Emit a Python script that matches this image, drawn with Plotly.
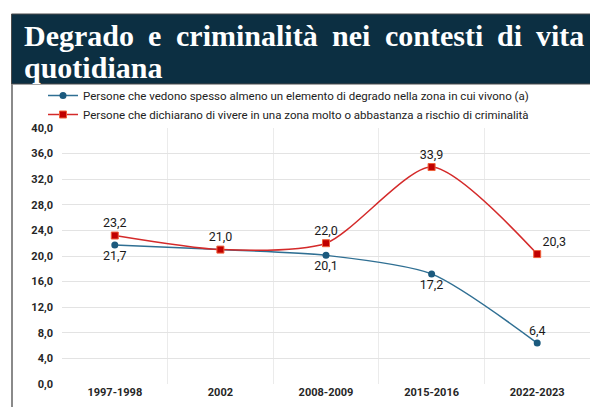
import plotly.graph_objects as go

categories = ["1997-1998", "2002", "2008-2009", "2015-2016", "2022-2023"]
degrado = [21.7, 21.0, 20.1, 17.2, 6.4]
criminalita = [23.2, 21.0, 22.0, 33.9, 20.3]
name_degrado = "Persone che vedono spesso almeno un elemento di degrado nella zona in cui vivono (a)"
name_crim = "Persone che dichiarano di vivere in una zona molto o abbastanza a rischio di criminalità"
title_line1 = ["Degrado", "e", "criminalità", "nei", "contesti", "di", "vita"]
title_line2 = "quotidiana"

# page body has an 8px margin; figure drawn 8px smaller
OFF = 8
W, H = 598 - OFF, 407 - OFF
ML, MR, MT, MB = 62 - OFF, 8, 128 - OFF, 23
PW, PH = W - ML - MR, H - MT - MB

def px(x):  # x in window pixels
    return (x - OFF - ML) / PW

def py(y):  # y in window pixels from top
    return (H - MB - (y - OFF)) / PH

BLUE_L = "#2f6f93"
BLUE_M = "#1b5a7e"
RED_L = "#d42a2a"
RED_M = "#c00000"

fig = go.Figure()

deg_text = [f"{v:.1f}".replace(".", ",") for v in degrado]
deg_text[1] = ""
deg_pos = ["bottom center", "bottom center", "bottom center", "bottom center", "top center"]
crim_text = [f"{v:.1f}".replace(".", ",") for v in criminalita]
crim_pos = ["top center", "top center", "top center", "top center", "top right"]

fig.add_trace(go.Scatter(
    x=categories, y=degrado, name=name_degrado, mode="lines+markers+text",
    line=dict(color=BLUE_L, width=1.5, shape="spline", smoothing=0.7),
    marker=dict(symbol="circle", size=7, color=BLUE_M),
    text=deg_text, textposition=deg_pos,
    textfont=dict(family="Roboto", size=12.5, color="#1a1a1a"),
))
fig.add_trace(go.Scatter(
    x=categories, y=criminalita, name=name_crim, mode="lines+markers+text",
    line=dict(color=RED_L, width=1.5, shape="spline", smoothing=0.7),
    marker=dict(symbol="square", size=7, color=RED_M, line=dict(color="#f0603a", width=1)),
    text=crim_text, textposition=crim_pos,
    textfont=dict(family="Roboto", size=12.5, color="#1a1a1a"),
))

shapes = [
    dict(type="rect", xref="paper", yref="paper", x0=px(11.5), x1=px(605), y0=py(84), y1=py(14),
         fillcolor="#0c2f42", line=dict(color="#4a4a4a", width=1), layer="below"),
    dict(type="line", xref="paper", yref="paper", x0=px(12), x1=px(12), y0=py(84), y1=py(412),
         line=dict(color="#8a8a8a", width=2)),
]

annotations = []
space_w = 14.3
widths = [110.0, 13.3, 141.7, 38.3, 98.3, 25.0, 48.3]
x = 22
for word, w in zip(title_line1, widths):
    annotations.append(dict(text=f"<b>{word}</b>", xref="paper", yref="paper", x=px(x), y=py(35),
                            xanchor="left", yanchor="middle", showarrow=False,
                            font=dict(family="Liberation Serif", size=30, color="white")))
    x += w + space_w
annotations.append(dict(text=f"<b>{title_line2}</b>", xref="paper", yref="paper", x=px(22), y=py(67),
                        xanchor="left", yanchor="middle", showarrow=False,
                        font=dict(family="Liberation Serif", size=30, color="white")))

fig.update_layout(
    width=W, height=H,
    margin=dict(l=ML, r=MR, t=MT, b=MB),
    paper_bgcolor="white", plot_bgcolor="white",
    separators=",.",
    shapes=shapes, annotations=annotations,
    showlegend=True,
    legend=dict(x=px(43), y=py(81), xanchor="left", yanchor="top",
                font=dict(family="Roboto", size=11.5, color="#222222"),
                bgcolor="rgba(0,0,0,0)", itemwidth=30, tracegroupgap=0),
    xaxis=dict(type="category", range=[-0.5, 4.5], tickson="boundaries", showgrid=True,
               gridcolor="#ebebeb", gridwidth=1,
               showline=False, ticks="", zeroline=False,
               tickfont=dict(family="Roboto", size=11, color="#262626", weight="bold")),
    yaxis=dict(range=[0, 40], dtick=4, tickformat=".1f", showgrid=True, gridcolor="#e3e3e3", gridwidth=1,
               zeroline=False, showline=False, ticks="", ticklabelstandoff=8,
               tickfont=dict(family="Roboto", size=11, color="#262626", weight="bold")),
)

fig.write_html("out.html")
